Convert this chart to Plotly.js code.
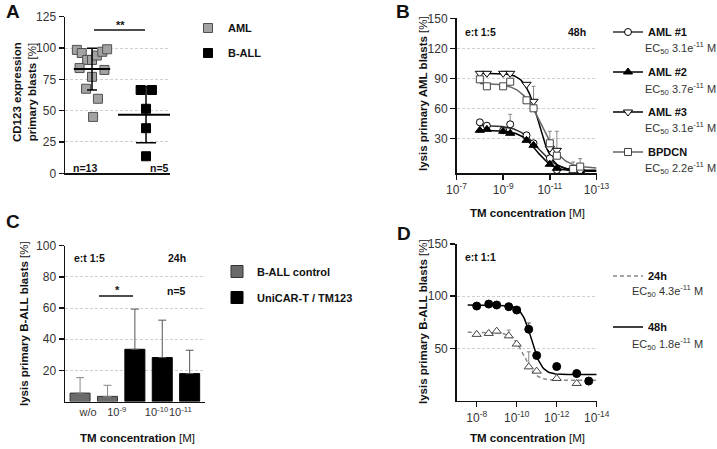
<!DOCTYPE html>
<html>
<head>
<meta charset="utf-8">
<script src="https://cdn.plot.ly/plotly-3.0.1.min.js"></script>
<style>
  body { margin: 0; background: #fff; }
  #chart { width: 717px; height: 449px; }
</style>
</head>
<body>
<div id="chart"></div>
<script>
// ---- panel A: CD123 expression on primary blasts
var aGroups = ['AML', 'B-ALL'];
var amlCd123 = [98.5, 96, 90.5, 90.5, 94, 97, 99, 84, 82.5, 77, 67.5, 59.5, 45];
var amlSpread = [-0.28, -0.19, -0.09, 0, 0.09, 0.19, 0.28, -0.23, 0.23, 0, -0.11, 0.11, 0.02];
var ballCd123 = [66.5, 66.5, 51.5, 36, 13.6];
var ballSpread = [-0.1, 0.11, 0, 0, 0];

// ---- panel B: lysis of AML blasts, 48h
var bConc = [1e-8, 5e-9, 1e-9, 5e-10, 1e-10, 5e-11, 1e-11, 5e-12, 1e-12, 5e-13];
var aml1Lysis = [46, 42.6, 38, 44, 33, 25, 10, -1.7, -1.7, -4];
var aml1Err = [0, 0, 0, 10, 0, 0, 0, 0, 0, 0];
var aml2Lysis = [38, 39, 37, 35, 28, 23, 4, 0, -3, -3];
var aml3Lysis = [95, 95, 95, 95, 84, 67, 20, 18, -2, -3];
var aml3Err = [0, 0, 2, 0, 0, 15, 0, 19, 0, 0];
var bpdcnLysis = [89, 82, 82, 86.6, 68, 60, 25, 12.6, -0.7, 1.7];
var bpdcnErr = [0, 0, 0, 0, 0, 0, 12, 0, 7, 8];
var bNames = ['AML #1', 'AML #2', 'AML #3', 'BPDCN'];
var bEc50 = [3.1e-11, 3.7e-11, 3.1e-11, 2.2e-11];
var bEc50Text = ['3.1', '3.7', '3.1', '2.2'];
var bTop = [43, 38, 95, 85];
var bBottom = [-3, -3, -2, 0];
var bHill = [1.0, 1.2, 1.5, 1.0];

// ---- panel C: lysis of B-ALL blasts, 24h
var cTickText = ['w/o', '10<sup>-9</sup>', '10<sup>-10</sup>', '10<sup>-11</sup>'];
var ctrlLysis = [5.4, 3.3];
var ctrlErr = [9.9, 7.1];
var unicarLysis = [33.5, 28.2, 17.9];
var unicarErr = [25.8, 24, 15];

// ---- panel D: lysis of B-ALL blasts, e:t 1:1
var dConc = [1e-8, 2.5e-9, 1e-9, 2.5e-10, 1e-10, 2.5e-11, 1e-11, 1e-12, 1e-13, 2.5e-14];
var lysis24h = [63.5, 64.4, 66.6, 62.1, 54.2, 32.4, 28.3, 21.3, 16.5, null];
var err24h = [0, 0, 0, 5.5, 0, 14.4, 0, 0, 0, 0];
var lysis48h = [90.6, 92.5, 91.6, 90, 86.8, 68.4, 43.3, 32.7, 26, 18.8];
var err48h = [0, 0, 0, 0, 0, 6, 0, 0, 3, 0];
var dNames = ['24h', '48h'];
var dEc50 = [4.3e-11, 1.8e-11];
var dEc50Text = ['4.3', '1.8'];
var dTop = [65.5, 91.5];
var dBottom = [19.5, 25];
var dHill = [1.5, 1.7];

var F = 'Liberation Sans, Arial, Helvetica, sans-serif';
var W = 717, H = 449;
function px(x) { return x / W; }
function py(y) { return 1 - y / H; }

function mean(a) { return a.reduce(function (s, v) { return s + v; }, 0) / a.length; }
function sd(a) {
  var m = mean(a);
  return Math.sqrt(a.reduce(function (s, v) { return s + (v - m) * (v - m); }, 0) / (a.length - 1));
}
// four parameter logistic fit line
function fitLine(top, bottom, ec50, hill, fromLog, toLog) {
  var xs = [], ys = [], logEc = Math.log10(ec50);
  for (var i = 0; i <= 120; i++) {
    var l = fromLog + (toLog - fromLog) * i / 120;
    xs.push(Math.pow(10, l));
    ys.push(bottom + (top - bottom) / (1 + Math.pow(10, (logEc - l) * hill)));
  }
  return { x: xs, y: ys };
}
function upErr(arr, color, w) {
  return { type: 'data', symmetric: false, array: arr, arrayminus: arr.map(function () { return 0; }),
           color: color, thickness: 1, width: w };
}

var traces = [];

// A
traces.push({
  x: amlSpread.map(function (d) { return 0 + d; }), y: amlCd123, xaxis: 'x', yaxis: 'y',
  type: 'scatter', mode: 'markers', name: '<b>AML</b>', legend: 'legend', legendgroup: 'ga1',
  marker: { symbol: 'square', size: 9, color: '#a3a3a3', line: { color: '#505050', width: 1 } }
});
traces.push({
  x: ballSpread.map(function (d) { return 1 + d; }), y: ballCd123, xaxis: 'x', yaxis: 'y',
  type: 'scatter', mode: 'markers', name: '<b>B-ALL</b>', legend: 'legend', legendgroup: 'ga2',
  marker: { symbol: 'square', size: 9, color: '#000', line: { color: '#000', width: 1 } }
});
[amlCd123, ballCd123].forEach(function (vals, i) {
  traces.push({
    x: [i], y: [mean(vals)], xaxis: 'x', yaxis: 'y', type: 'scatter', mode: 'markers',
    showlegend: false, hoverinfo: 'skip',
    marker: { symbol: 'line-ew', size: i === 0 ? 26 : 40, color: '#000', line: { color: '#000', width: 2 } },
    error_y: { type: 'data', array: [sd(vals)], color: '#000', thickness: 1.5, width: i === 0 ? 5 : 10 }
  });
});

// B
var bSeries = [aml1Lysis, aml2Lysis, aml3Lysis, bpdcnLysis];
var bErrs = [aml1Err, null, aml3Err, bpdcnErr];
var bSymbols = ['circle', 'triangle-up', 'triangle-down', 'square'];
var bFill = ['#fff', '#000', '#fff', '#fff'];
var bEdge = ['#000', '#000', '#000', '#444'];
var bLine = ['#333', '#000', '#000', '#666'];
var bSize = [7, 8, 8, 7];
bSeries.forEach(function (vals, i) {
  var fit = fitLine(bTop[i], bBottom[i], bEc50[i], bHill[i], -8, -13);
  traces.push({
    x: fit.x, y: fit.y, xaxis: 'x2', yaxis: 'y2', type: 'scatter', mode: 'lines',
    showlegend: false, hoverinfo: 'skip', line: { color: bLine[i], width: 1.5 }
  });
});
bSeries.forEach(function (vals, i) {
  var t = {
    x: bConc, y: vals, xaxis: 'x2', yaxis: 'y2', type: 'scatter', mode: 'markers', showlegend: false,
    marker: { symbol: bSymbols[i], size: bSize[i], color: bFill[i], line: { color: bEdge[i], width: 1 } }
  };
  if (bErrs[i]) t.error_y = upErr(bErrs[i], '#888', 2);
  traces.push(t);
});
// legend entries for B
bSeries.forEach(function (vals, i) {
  traces.push({
    x: [null], y: [null], xaxis: 'x2', yaxis: 'y2', type: 'scatter', mode: 'lines+markers',
    name: '<b>' + bNames[i] + '</b>', legend: 'legend2', legendgroup: 'gb' + i,
    line: { color: bLine[i], width: 1.5 },
    marker: { symbol: bSymbols[i], size: bSize[i], color: bFill[i], line: { color: bEdge[i], width: 1 } }
  });
});

// C
traces.push({
  x: [0, 1], y: ctrlLysis, xaxis: 'x3', yaxis: 'y3', type: 'bar', width: 0.73,
  name: '<b>B-ALL control</b>', legend: 'legend3', legendgroup: 'gc1',
  marker: { color: '#6b6b6b', line: { color: '#333', width: 1 } },
  error_y: upErr(ctrlErr, '#888', 4)
});
traces.push({
  x: [2, 3, 4], y: unicarLysis, xaxis: 'x3', yaxis: 'y3', type: 'bar', width: 0.73,
  name: '<b>UniCAR-T / TM123</b>', legend: 'legend3', legendgroup: 'gc2',
  marker: { color: '#000', line: { color: '#000', width: 1 } },
  error_y: upErr(unicarErr, '#555', 4)
});

// D
var dSeries = [lysis24h, lysis48h];
var dErrs = [err24h, err48h];
dSeries.forEach(function (vals, i) {
  var fit = fitLine(dTop[i], dBottom[i], dEc50[i], dHill[i], -7.55, -14);
  traces.push({
    x: fit.x, y: fit.y, xaxis: 'x4', yaxis: 'y4', type: 'scatter', mode: 'lines',
    name: '<b>' + dNames[i] + '</b>', legend: 'legend4', legendgroup: 'gd' + i, hoverinfo: 'skip',
    line: i === 0 ? { color: '#888', width: 1.5, dash: '4px,3px' } : { color: '#000', width: 1.5 }
  });
});
dSeries.forEach(function (vals, i) {
  traces.push({
    x: dConc, y: vals, xaxis: 'x4', yaxis: 'y4', type: 'scatter', mode: 'markers', showlegend: false,
    marker: i === 0
      ? { symbol: 'triangle-up', size: 8, color: '#fff', line: { color: '#444', width: 1 } }
      : { symbol: 'circle', size: 8, color: '#000', line: { color: '#000', width: 1 } },
    error_y: upErr(dErrs[i], i === 0 ? '#888' : '#444', 2)
  });
});

var tickFont = { family: F, size: 12, color: '#333' };
function yAx(domain, range, tickvals, anchor) {
  return {
    domain: domain, range: range, tickvals: tickvals, anchor: anchor, showline: true, linecolor: '#111',
    linewidth: 1.5, ticks: 'outside', ticklen: 5, tickwidth: 1.5, tickcolor: '#111', tickfont: tickFont,
    showgrid: true, gridcolor: '#cfcfcf', griddash: '3px,2px', gridwidth: 1, zeroline: false, fixedrange: true
  };
}
function logX(domain, range, tickvals, ticktext, anchor) {
  return {
    domain: domain, type: 'log', range: range, tickvals: tickvals, ticktext: ticktext, anchor: anchor,
    showline: true, linecolor: '#111', linewidth: 1.5, ticks: 'outside', ticklen: 5, tickwidth: 1.5,
    tickcolor: '#111', tickfont: tickFont, tickangle: 0, showgrid: false, zeroline: false
  };
}

function note(text, x, y, opts) {
  opts = opts || {};
  return {
    xref: 'paper', yref: 'paper', x: px(x), y: py(y), text: text, showarrow: false,
    xanchor: opts.xa || 'center', yanchor: 'middle', textangle: opts.rot || 0,
    font: { family: F, size: opts.size || 10.5, color: opts.color || '#111' }
  };
}
var ecStr = function (v) { return 'EC<sub>50</sub> ' + v + 'e<sup>-11</sup> M'; };

var annotations = [
  note('<b>A</b>', 4, 12, { xa: 'left', size: 19 }),
  note('<b>B</b>', 394, 11, { xa: 'left', size: 19 }),
  note('<b>C</b>', 4, 221, { xa: 'left', size: 19 }),
  note('<b>D</b>', 395, 234, { xa: 'left', size: 19 }),
  // A
  note('<b>**</b>', 120, 25, { size: 11 }),
  note('<b>n=13</b>', 85, 167.5),
  note('<b>n=5</b>', 159, 167.5),
  note('<b>CD123 expression</b><br><b>primary blasts</b> [%]', 24, 92, { rot: -90, size: 11.5 }),
  // B
  note('<b>e:t 1:5</b>', 463, 32.3, { xa: 'left' }),
  note('<b>48h</b>', 588, 32.3, { xa: 'right' }),
  note('<b>lysis primary AML blasts</b> [%]', 423, 94, { rot: -90, size: 11.5 }),
  note('<b>TM concentration</b> [M]', 527, 212.7, { size: 11.5 }),
  // C
  note('<b>e:t 1:5</b>', 72, 258.3, { xa: 'left' }),
  note('<b>24h</b>', 188, 258.3, { xa: 'right' }),
  note('<b>n=5</b>', 188, 291, { xa: 'right' }),
  note('<b>*</b>', 117, 290, { size: 11 }),
  note('<b>lysis primary B-ALL blasts</b> [%]', 24, 324, { rot: -90, size: 11.5 }),
  note('<b>TM concentration</b> [M]', 137, 438, { size: 11.5 }),
  // D
  note('<b>e:t 1:1</b>', 463, 257, { xa: 'left' }),
  note('<b>lysis primary B-ALL blasts</b> [%]', 423, 322, { rot: -90, size: 11.5 }),
  note('<b>TM concentration</b> [M]', 527, 438, { size: 11.5 })
];
var bEcY = [48.3, 89.3, 128.3, 168.3];
bEc50Text.forEach(function (v, i) {
  annotations.push(note(ecStr(v), 643, bEcY[i], { xa: 'left', size: 11, color: '#333' }));
});
var dEcY = [290.7, 344];
dEc50Text.forEach(function (v, i) {
  annotations.push(note(ecStr(v), 630, dEcY[i], { xa: 'left', size: 11, color: '#333' }));
});

function legendAt(x, yTop, gap) {
  return {
    x: px(x), y: py(yTop), xanchor: 'left', yanchor: 'top', bgcolor: 'rgba(0,0,0,0)',
    font: { family: F, size: 11, color: '#111' }, traceorder: 'grouped', tracegroupgap: gap,
    itemwidth: 30, itemclick: false, itemdoubleclick: false
  };
}

var layout = {
  width: W, height: H, autosize: false, margin: { l: 0, r: 0, t: 0, b: 0 },
  paper_bgcolor: '#fff', plot_bgcolor: 'rgba(0,0,0,0)', barmode: 'overlay',
  font: { family: F, size: 12, color: '#111' },
  xaxis: {
    domain: [px(65), px(170)], range: [-0.5, 1.444], anchor: 'y', showline: true, linecolor: '#111',
    linewidth: 1.5, showticklabels: false, ticks: '', showgrid: false, zeroline: false
  },
  yaxis: yAx([py(173.3), py(16.7)], [0, 125], [0, 25, 50, 75, 100, 125], 'x'),
  xaxis2: logX([px(456.5), px(596.5)], [-7, -13], [1e-7, 1e-9, 1e-11, 1e-13],
    ['10<sup>-7</sup>', '10<sup>-9</sup>', '10<sup>-11</sup>', '10<sup>-13</sup>'], 'y2'),
  yaxis2: yAx([py(173.3), py(18.3)], [-5, 150], [30, 60, 90, 120, 150], 'x2'),
  xaxis3: {
    domain: [px(65), px(205)], range: [-0.55, 4.56], anchor: 'y3', showline: true, linecolor: '#111',
    linewidth: 1.5, ticks: '', tickvals: [0.29, 1.34, 2.79, 3.66], ticktext: cTickText, tickangle: 0,
    tickfont: { family: F, size: 11, color: '#333' }, showgrid: false, zeroline: false
  },
  yaxis3: yAx([py(401.5), py(245.7)], [0, 100], [20, 40, 60, 80, 100], 'x3'),
  xaxis4: logX([px(456.7), px(596.7)], [-7, -14], [1e-8, 1e-10, 1e-12, 1e-14],
    ['10<sup>-8</sup>', '10<sup>-10</sup>', '10<sup>-12</sup>', '10<sup>-14</sup>'], 'y4'),
  yaxis4: yAx([py(400.7), py(244)], [0, 150], [50, 100, 150], 'x4'),
  legend: legendAt(188, 13.5, 6),
  legend2: legendAt(608, 17.5, 21),
  legend3: legendAt(217, 257, 7),
  legend4: legendAt(608, 261.5, 32),
  shapes: [
    { type: 'line', xref: 'paper', yref: 'paper', x0: px(94), x1: px(145), y0: py(30), y1: py(30),
      line: { color: '#111', width: 1.5 } },
    { type: 'line', xref: 'paper', yref: 'paper', x0: px(99), x1: px(133), y0: py(296), y1: py(296),
      line: { color: '#111', width: 1.5 } }
  ],
  annotations: annotations,
  showlegend: true
};

Plotly.newPlot('chart', traces, layout, { staticPlot: true, displayModeBar: false });
</script>
</body>
</html>
